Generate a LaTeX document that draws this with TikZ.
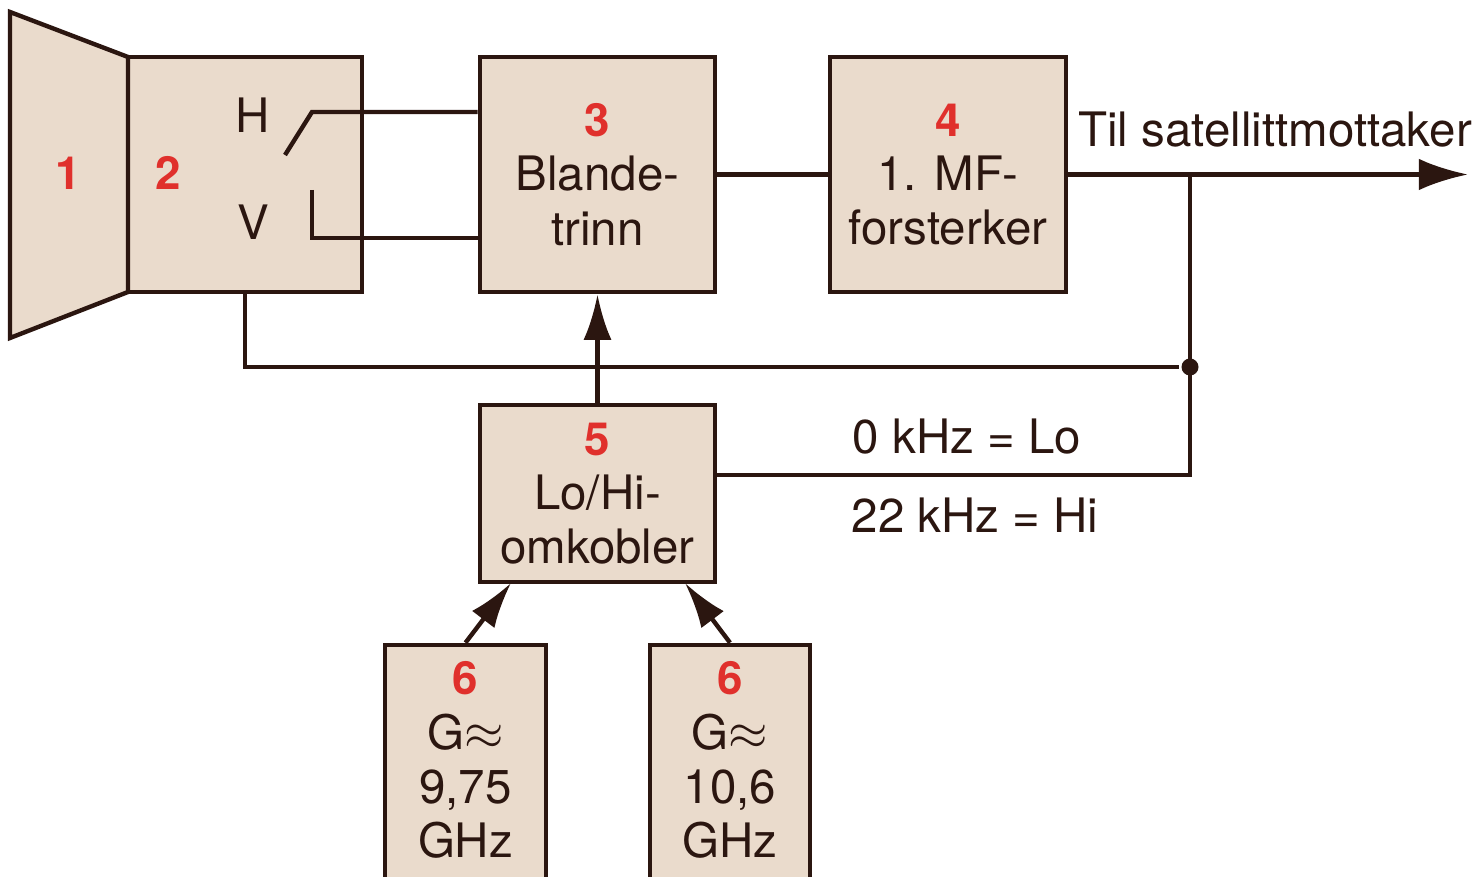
\documentclass[tikz,border=0pt]{standalone}
\usepackage{fontspec}
\setmainfont{TeX Gyre Heros}
\usepackage{tikz}
\usetikzlibrary{arrows.meta, positioning, calc}
\definecolor{lnbrown}{HTML}{2B1610}
\definecolor{boxfill}{HTML}{EADBCC}
\definecolor{numred}{HTML}{E0302C}
\newcommand{\nr}[1]{{\color{numred}\fontsize{13pt}{15.4pt}\bfseries #1}}

\begin{document}
\begin{tikzpicture}[x=0.01cm, y=-0.01cm, color=lnbrown, line width=1.25pt,
  blk/.style={draw=lnbrown, fill=boxfill, line width=1.25pt, inner sep=0pt,
    align=center, font=\fontsize{13.5pt}{15.4pt}\selectfont},
  lbl/.style={inner sep=0pt, align=center, font=\fontsize{13.5pt}{15.4pt}\selectfont},
  nrlbl/.style={inner sep=0pt, text=numred, font=\fontsize{13pt}{15.4pt}\bfseries},
  dot/.style={circle, fill=lnbrown, inner sep=0pt, minimum size=0.17cm},
  arr/.style={-{Latex[length=13pt,width=8pt]}}]
  \clip (0,0) rectangle (1482,877);
  \fill[white] (0,0) rectangle (1482,877);

  % boxes
  \node[blk, minimum width=2.34cm, minimum height=2.35cm] (b2) at (245,174.5) {};
  \node[blk, minimum width=2.35cm, minimum height=2.35cm] (b3) at (597.5,174.5)
    {\nr{3}\\Blande-\\trinn};
  \node[blk, minimum width=2.36cm, minimum height=2.35cm] (b4) at (948,174.5)
    {\nr{4}\\1. MF-\\forsterker};
  \node[blk, minimum width=2.35cm, minimum height=1.77cm] (b5) at (597.5,493.5)
    {\nr{5}\\Lo/Hi-\\omkobler};
  \node[blk, minimum width=1.61cm, minimum height=2.60cm] (b6a) at (465.5,775) {};
  \node[blk, minimum width=1.60cm, minimum height=2.60cm] (b6b) at (730,775) {};
  \node[lbl] (t6a) at (465.5,760) {\nr{6}\\G$\approx$\\9,75\\GHz};
  \node[lbl] (t6b) at (730,760) {\nr{6}\\G$\approx$\\10,6\\GHz};

  % horn
  \draw[fill=boxfill, line join=miter] (10,12) -- (128,57) -- (128,292) -- (10,338) -- cycle;
  \node[nrlbl] (n1) at (68,173) {1};
  \node[nrlbl] (n2) at (168,173) {2};
  \node[lbl] (hlbl) at (253,115) {H};
  \node[lbl] (vlbl) at (253,222) {V};

  % H/V switch
  \coordinate (hpole) at (285,155);
  \coordinate (hbend) at (312,112);
  \coordinate (vtop) at (312,190);
  \coordinate (vcorner) at (312,238);
  \draw (hpole) -- (hbend) -- (hbend -| b3.west);
  \draw (vtop) -- (vcorner) -- (vcorner -| b3.west);

  % signal path
  \coordinate (outend) at (1468,177);
  \node[dot] (jn) at (1190,367) {};
  \coordinate (lotap) at (1190,475);
  \draw (b3.east) -- (b4.west);
  \draw[-{Latex[length=14pt,width=9pt]}] (b4.east) -- (b4.east -| outend);
  \draw (b4.east -| jn) -- (lotap) -- (lotap -| b5.east);
  \draw (b2.south) -- (b2.south |- jn) -- (jn);
  \draw[arr] (b5.north) -- (b3.south);

  \coordinate (in6a) at (511,583);
  \coordinate (in6b) at (685,583);
  \draw[arr] (b6a.north) -- (in6a);
  \draw[arr] (b6b.north) -- (in6b);

  % texts
  \node[lbl] (til) at (1275,130) {Til satellittmottaker};
  \node[lbl] (lo) at (967,437) {0 kHz = Lo};
  \node[lbl] (hi) at (975,515) {22 kHz = Hi};
\end{tikzpicture}
\end{document}
